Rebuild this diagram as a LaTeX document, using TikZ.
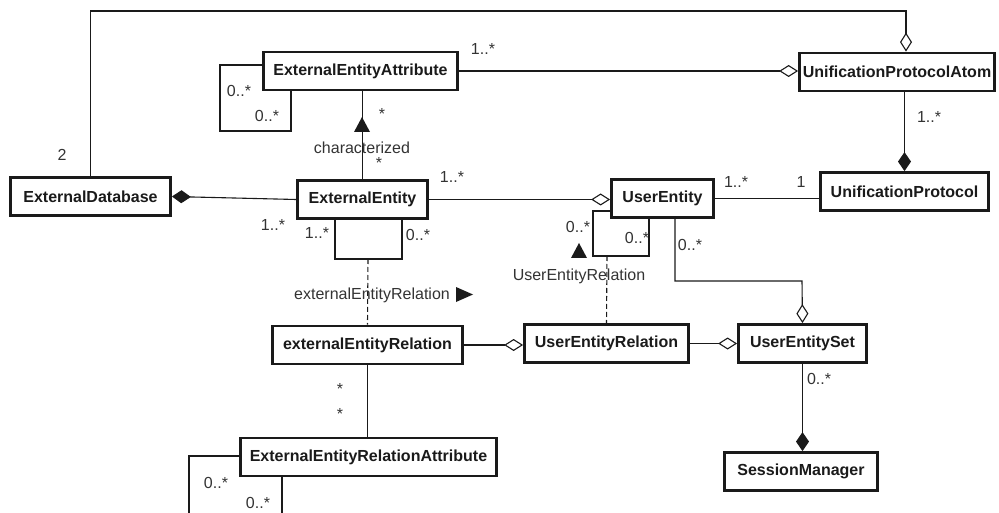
\documentclass[tikz,border=0pt]{standalone}
\usepackage{fontspec}
\setmainfont{Liberation Sans}
\usetikzlibrary{arrows.meta}
\definecolor{ink}{HTML}{1A1A1A}
\definecolor{lab}{HTML}{333333}
\tikzset{
  cls/.style={draw=ink, line width=2.8pt, minimum height=38pt, inner sep=0pt,
    font=\bfseries\fontsize{16}{19}\selectfont, text=ink},
  conn/.style={draw=ink, line width=1.1pt},
  agg/.style={conn, -{Diamond[open, length=19pt, width=12pt, line width=1.1pt]}},
  comp/.style={conn, -{Diamond[length=19pt, width=13pt]}},
  dep/.style={conn, dash pattern=on 5pt off 3pt},
  lbl/.style={font=\fontsize{16}{19}\selectfont, text=lab, inner sep=0pt},
  tri/.style={fill=ink, draw=none}
}
\begin{document}
\begin{tikzpicture}[x=1pt, y=-1pt]
\useasboundingbox (0,0) rectangle (999,513);
% classes
\node[cls, minimum width=194pt] (eea)  at (360.5,71)   {ExternalEntityAttribute};
\node[cls, minimum width=160pt] (ed)   at (90.5,196.5) {ExternalDatabase};
\node[cls, minimum width=130pt] (ee)   at (362.5,199.5){ExternalEntity};
\node[cls, minimum width=195pt] (upa)  at (897,72)     {UnificationProtocolAtom};
\node[cls, minimum width=168pt] (up)   at (904.5,191.5){UnificationProtocol};
\node[cls, minimum width=102pt] (ue)   at (662.5,198.5){UserEntity};
\node[cls, minimum width=190pt] (eer)  at (367.5,345)  {externalEntityRelation};
\node[cls, minimum width=256pt] (eera) at (368.5,457)  {ExternalEntityRelationAttribute};
\node[cls, minimum width=164pt] (uer)  at (606.5,343.5){UserEntityRelation};
\node[cls, minimum width=128pt] (ues)  at (802.5,343.5){UserEntitySet};
\node[cls, minimum width=153pt] (sm)   at (801,471.5)  {SessionManager};
% helper coordinates
\coordinate (topR) at (906,11);
\coordinate (eeloop) at (368,259);
\coordinate (ueloop) at (607,256);
\coordinate (ueset) at (802,281);
% connectors
\draw[agg] (ed.north) |- (topR) -- (upa.north -| topR);
\draw[agg] (eea.east) -- (eea.east -| upa.west);
\draw[comp] (up.north |- upa.south) -- (up.north);
\draw[comp] (ee.west) -- (ed.east);
\draw[conn] (ee.north) -- (ee.north |- eea.south);
\draw[conn] (eea.west |- 0,65) -- (220,65) -- (220,131) -- (291,131) -- (eea.south -| 291,0);
\draw[agg] (ee.east) -- (ee.east -| ue.west);
\draw[conn] (ee.south -| 335,0) |- (402,259) -- (ee.south -| 402,0);
\draw[dep] (eeloop) -- (eer.north);
\draw[conn] (ue.east) -- (ue.east -| up.west);
\draw[conn] (ue.west |- 0,211) -- (593,211) |- (649,256) -- (ue.south -| 649,0);
\draw[dep] (ueloop) -- (uer.north);
\draw[agg] (ue.south -| 675,0) |- (ueset) -- (ues.north);
\draw[agg] (eer.east) -- (eer.east -| uer.west);
\draw[agg] (uer.east) -- (uer.east -| ues.west);
\draw[comp] (ues.south) -- (ues.south |- sm.north);
\draw[conn] (eer.south) -- (eer.south |- eera.north);
\draw[conn] (eera.west |- 0,456) -- (189,456) -- (189,514);
\draw[conn] (eera.south -| 282,0) -- (282,514);
% direction triangles
\fill[tri] (354,132) -- (370,132) -- (362,117) -- cycle;
\fill[tri] (456,287) -- (473,294.5) -- (456,302) -- cycle;
\fill[tri] (571,258) -- (587,258) -- (579,243) -- cycle;
% labels
\node[lbl] (l1) at (62,155) {2};
\node[lbl] (l2) at (483,49) {1..*};
\node[lbl] (l3) at (239,91) {0..*};
\node[lbl] (l4) at (267,116) {0..*};
\node[lbl] (l5) at (382,114) {*};
\node[lbl] (l6) at (362,148) {characterized};
\node[lbl] (l7) at (379,163) {*};
\node[lbl] (l8) at (452,177) {1..*};
\node[lbl] (l9) at (273,225) {1..*};
\node[lbl] (l10) at (317,233) {1..*};
\node[lbl] (l11) at (418,235) {0..*};
\node[lbl] (l12) at (929,117) {1..*};
\node[lbl] (l13) at (736,182) {1..*};
\node[lbl] (l14) at (801,182) {1};
\node[lbl] (l15) at (578,227) {0..*};
\node[lbl] (l16) at (637,238) {0..*};
\node[lbl] (l17) at (690,245) {0..*};
\node[lbl] (l18) at (372,295) {externalEntityRelation};
\node[lbl] (l19) at (340,389) {*};
\node[lbl] (l20) at (340,414) {*};
\node[lbl] (l21) at (216,483) {0..*};
\node[lbl] (l22) at (258,503) {0..*};
\node[lbl] (l23) at (579,276) {UserEntityRelation};
\node[lbl] (l24) at (819,379) {0..*};
\end{tikzpicture}
\end{document}
